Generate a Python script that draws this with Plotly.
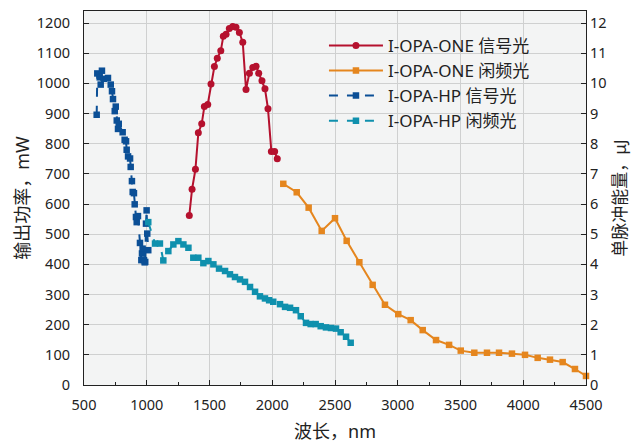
import plotly.graph_objects as go

# I-OPA-ONE signal (nm, mW)
one_sig_x = [1339, 1361, 1388, 1411, 1438, 1459, 1486, 1512, 1539, 1562, 1590, 1610, 1632, 1658,
             1685, 1711, 1738, 1765, 1791, 1818, 1845, 1871, 1892, 1918, 1942, 1966, 1993, 2019, 2040]
one_sig_y = [562, 649, 715, 836, 866, 923, 930, 998, 1056, 1083, 1108, 1156, 1163, 1182,
             1189, 1186, 1169, 1136, 980, 1034, 1053, 1057, 1034, 1009, 982, 916, 774, 774, 750]

# I-OPA-ONE idler
one_idl_x = [2088, 2195, 2290, 2394, 2500, 2593, 2694, 2800, 2898, 3004, 3103, 3199, 3305, 3409,
             3502, 3610, 3711, 3807, 3910, 4014, 4115, 4213, 4314, 4412, 4500]
one_idl_y = [667, 639, 588, 511, 553, 478, 407, 332, 266, 235, 215, 182, 149, 133,
             114, 107, 107, 107, 104, 100, 90, 84, 76, 53, 30]

# I-OPA-HP signal
hp_sig_x = [601, 606, 625, 643, 633, 660, 691, 713, 723, 731, 745, 753, 761, 771, 777, 808, 824,
            835, 840, 851, 867, 872, 882, 888, 898, 904, 914, 920, 930, 946, 957, 962, 967,
            978, 983, 988, 994, 999, 1004, 1012]
hp_sig_y = [896, 1033, 1020, 1042, 996, 1015, 1018, 996, 974, 948, 908, 923, 877, 849, 866, 838, 813,
            808, 780, 758, 751, 723, 676, 640, 636, 599, 557, 540, 560, 471, 414, 436, 452,
            414, 407, 408, 535, 579, 502, 447]

# I-OPA-HP idler
hp_idl_x = [1012, 1066, 1105, 1132, 1172, 1212, 1252, 1292, 1332, 1371, 1411, 1451, 1491, 1531,
            1576, 1624, 1663, 1703, 1743, 1783, 1823, 1863, 1902, 1942, 1975, 2008, 2062, 2102,
            2142, 2189, 2227, 2269, 2306, 2346, 2386, 2428, 2468, 2508, 2545, 2588, 2625]
hp_idl_y = [540, 469, 469, 413, 444, 466, 477, 466, 455, 422, 422, 404, 411, 400,
            386, 378, 367, 358, 350, 342, 325, 309, 294, 287, 281, 276, 268, 259,
            256, 248, 228, 206, 202, 202, 195, 191, 189, 187, 175, 160, 140]

names = ["I-OPA-ONE 信号光", "I-OPA-ONE 闲频光", "I-OPA-HP 信号光", "I-OPA-HP 闲频光"]
colors = ["#b5112e", "#e5861e", "#0b4f96", "#0f90ad"]

FONT = "Noto Sans, Noto Sans CJK SC, sans-serif"
TICKFONT = dict(family=FONT, size=14.5, color="#222")

fig = go.Figure()
fig.add_trace(go.Scatter(x=one_sig_x, y=one_sig_y, name=names[0], mode="lines+markers",
                         line=dict(color=colors[0], width=2),
                         marker=dict(symbol="circle", size=7, color=colors[0]), cliponaxis=False))
fig.add_trace(go.Scatter(x=one_idl_x, y=one_idl_y, name=names[1], mode="lines+markers",
                         line=dict(color=colors[1], width=2),
                         marker=dict(symbol="square", size=6.5, color=colors[1]), cliponaxis=False))
fig.add_trace(go.Scatter(x=hp_sig_x, y=hp_sig_y, name=names[2], mode="lines+markers",
                         line=dict(color=colors[2], width=2, dash="dash"),
                         marker=dict(symbol="square", size=6.5, color=colors[2]), cliponaxis=False))
fig.add_trace(go.Scatter(x=hp_idl_x, y=hp_idl_y, name=names[3], mode="lines+markers",
                         line=dict(color=colors[3], width=2, dash="dash"),
                         marker=dict(symbol="square", size=6.5, color=colors[3]), cliponaxis=False))
# invisible trace to activate right axis
fig.add_trace(go.Scatter(x=[None], y=[None], yaxis="y2", showlegend=False, hoverinfo="skip"))

axis_common = dict(showline=True, linecolor="#222", linewidth=1.2, ticks="inside", ticklen=5,
                   tickcolor="#222", showgrid=True, gridcolor="#cfd0d0", gridwidth=1,
                   zeroline=False, tickfont=TICKFONT, automargin=False)

fig.update_layout(
    width=643, height=443,
    margin=dict(l=84, r=57, t=11, b=58, autoexpand=False),
    paper_bgcolor="white", plot_bgcolor="#f3f4f4",
    font=dict(family=FONT, size=14, color="#222"),
    xaxis=dict(range=[500, 4500], dtick=500, tick0=500, mirror=True, ticklabelstandoff=6,
               title=dict(text="波长，nm", font=dict(family=FONT, size=18), standoff=12),
               minor=dict(dtick=250, ticks="inside", ticklen=3, tickcolor="#222", showgrid=False),
               **axis_common),
    yaxis=dict(range=[0, 1240], dtick=100, tick0=0, ticklabelstandoff=10,
               title=dict(text="输出功率，mW", font=dict(family=FONT, size=18), standoff=2),
               **axis_common),
    yaxis2=dict(range=[0, 12.4], dtick=1, tick0=0, overlaying="y", side="right",
                showline=True, linecolor="#222", linewidth=1.2, ticks="inside", ticklen=5,
                tickcolor="#222", showgrid=False, zeroline=False, automargin=False,
                tickfont=TICKFONT, ticklabelstandoff=0,
                title=dict(text="单脉冲能量，μJ", font=dict(family=FONT, size=17), standoff=8)),
    legend=dict(x=0.478, y=0.955, xanchor="left", yanchor="top", bgcolor="rgba(0,0,0,0)",
                font=dict(family=FONT, size=17, color="#222"), tracegroupgap=0, itemwidth=54),
    showlegend=True,
)

fig.write_html("out.html", config={"displayModeBar": False},
               post_script="document.body.style.margin='0px';")
